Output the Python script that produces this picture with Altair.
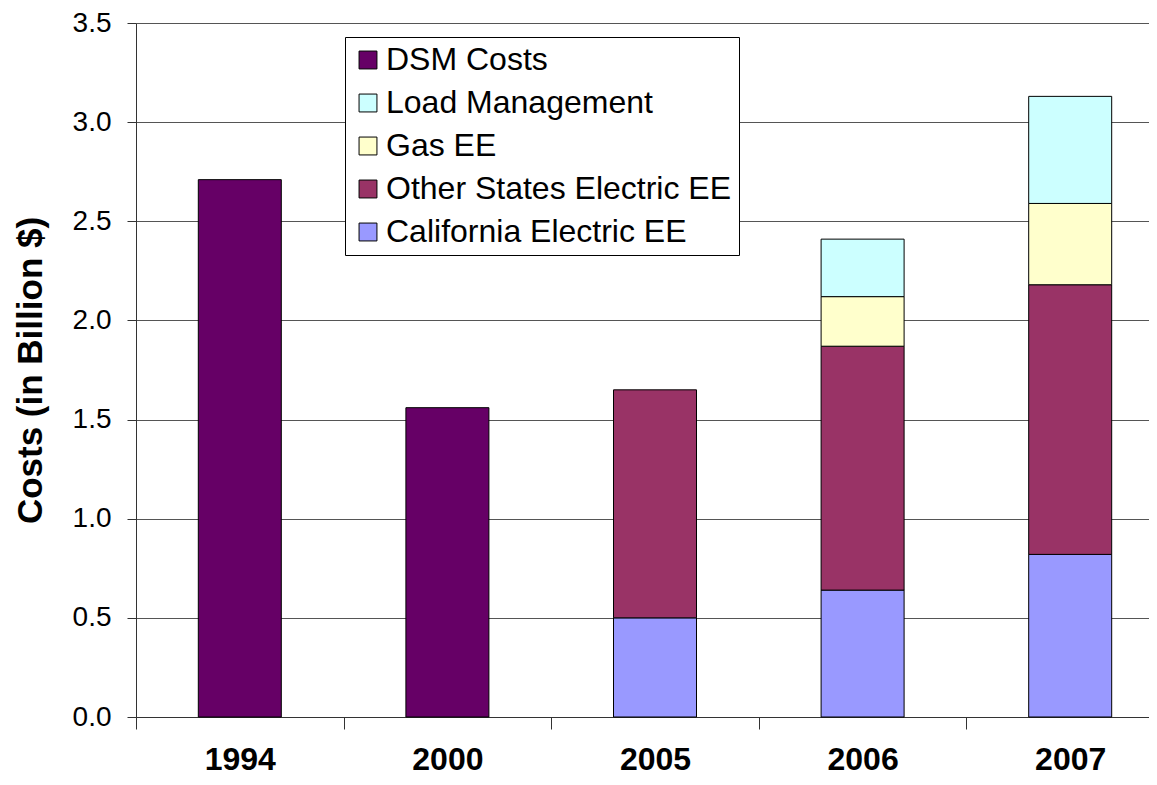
import altair as alt
import pandas as pd

years = ["1994", "2000", "2005", "2006", "2007"]
series = ["DSM Costs", "Load Management", "Gas EE", "Other States Electric EE", "California Electric EE"]
colors = ["#660066", "#CCFFFF", "#FFFFCC", "#993366", "#9999FF"]

dsm_costs = [2.71, 1.56, 0, 0, 0]
california_ee = [0, 0, 0.50, 0.64, 0.82]
other_states_ee = [0, 0, 1.15, 1.23, 1.36]
gas_ee = [0, 0, 0, 0.25, 0.41]
load_mgmt = [0, 0, 0, 0.29, 0.54]

stack_order = {"California Electric EE": 1, "Other States Electric EE": 2, "Gas EE": 3,
               "Load Management": 4, "DSM Costs": 0}
rows = []
for name, vals in [("DSM Costs", dsm_costs), ("California Electric EE", california_ee),
                   ("Other States Electric EE", other_states_ee), ("Gas EE", gas_ee),
                   ("Load Management", load_mgmt)]:
    for y, v in zip(years, vals):
        if v > 0:
            rows.append({"Year": y, "Series": name, "Value": v, "ord": stack_order[name]})
df = pd.DataFrame(rows)

font = "Liberation Sans"

chart = alt.Chart(df).mark_bar(size=83, stroke="black", strokeWidth=1).encode(
    x=alt.X("Year:N", sort=years,
            scale=alt.Scale(paddingInner=0, paddingOuter=0, range=[0, 1038]),
            axis=alt.Axis(title=None, labelAngle=0, labelFont=font, labelFontSize=32,
                          labelFontWeight="bold", labelColor="black", tickBand="extent",
                          tickSize=12, tickColor="#333333", domainColor="#333333",
                          labelPadding=15, grid=False)),
    y=alt.Y("Value:Q", stack="zero", scale=alt.Scale(domain=[0, 3.5]),
            axis=alt.Axis(title="Costs (in Billion $)", values=[0, 0.5, 1, 1.5, 2, 2.5, 3, 3.5],
                          format=".1f", labelFont=font, labelFontSize=28, labelColor="black",
                          titleFont=font, titleFontSize=35, titleFontWeight="bold",
                          titleColor="black", titlePadding=24, tickSize=9, labelPadding=16,
                          tickColor="#333333", domainColor="#333333", gridColor="#555555",
                          gridWidth=1)),
    color=alt.Color("Series:N", scale=alt.Scale(domain=series, range=colors),
                    legend=alt.Legend(title=None, orient="none", legendX=209, legendY=14,
                                      labelFont=font, labelFontSize=32, labelColor="black",
                                      symbolType="square", symbolSize=320,
                                      symbolStrokeColor="black", symbolStrokeWidth=1,
                                      strokeColor="black", fillColor="white", padding=7,
                                      rowPadding=11, labelOffset=2, labelLimit=600)),
    order=alt.Order("ord:Q"),
).properties(
    width=1013, height=694,
    autosize=alt.AutoSizeParams(type="none"),
    padding={"left": 128, "top": 15, "right": 0, "bottom": 59},
).configure_view(stroke=None).configure(background="white")

chart.save("out.html", embed_options={"renderer": "svg", "actions": False})
